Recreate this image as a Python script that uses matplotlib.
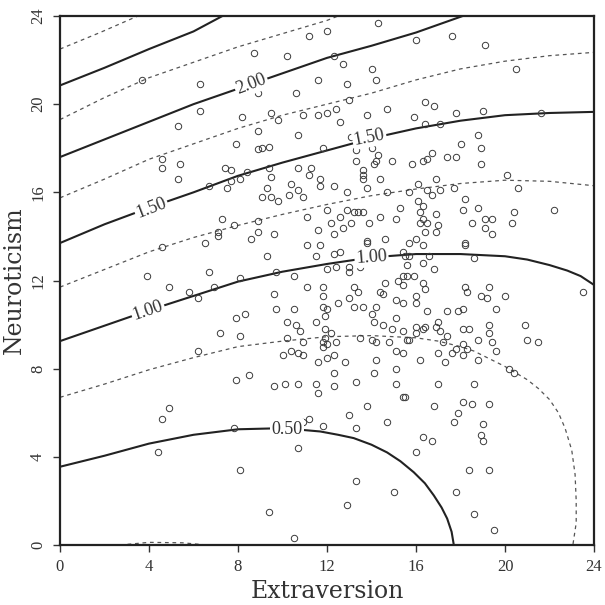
import matplotlib
matplotlib.use('Agg')
import matplotlib.pyplot as plt

# scatter: (extraversion, neuroticism)
extra = [
    3.7, 6.3, 6.3, 5.3, 8.7, 10.2, 11.2, 12.0, 11.6, 8.9, 10.6, 8.2, 8.9, 9.5, 9.8, 10.9, 11.6, 12.0, 10.7, 7.9, 9.1, 8.9, 11.8, 9.4,
    14.3, 16.0, 17.6, 19.1, 12.3, 12.7, 14.0, 14.2, 12.9, 13.0, 20.5, 12.4, 12.6, 13.8, 14.7, 15.9, 16.4, 16.8, 16.4, 17.1, 17.8, 19.0, 21.6, 18.8, 18.0, 18.9, 13.1, 14.0,
    4.6, 5.4, 4.6, 5.3, 7.4, 7.7, 7.5, 7.7, 8.1, 8.4, 6.7, 9.4, 9.5, 9.3, 9.1, 9.5, 9.8, 10.7, 11.3, 11.2, 10.4, 10.7, 10.3, 10.9, 11.7, 11.7, 12.0,
    7.3, 7.8, 8.9, 7.1, 7.1, 8.9, 9.6, 8.6, 6.5, 4.6, 9.3, 11.1, 11.6, 11.1, 11.7, 11.5, 6.7, 3.9, 8.1, 9.7, 10.5, 12.0,
    13.3, 14.3, 13.3, 14.1, 14.2, 14.9, 15.8, 16.3, 16.5, 16.7, 17.4, 17.8, 18.9, 13.6, 13.6, 13.6, 14.4, 12.3, 13.8, 12.9, 14.7, 15.7,
    16.1, 16.9, 16.5, 16.7, 17.1, 17.7, 20.1, 20.6, 18.2, 18.1, 18.8, 20.4, 22.2, 12.6, 13.2, 13.4, 13.6, 12.9, 12.2, 12.7, 13.1, 12.3,
    13.9, 14.4, 15.3, 15.1, 16.1, 16.3, 16.2, 16.9, 16.3, 16.2, 16.5, 17.0, 16.4, 16.9, 18.5, 19.1, 19.4, 19.1, 19.4, 20.3, 13.8, 13.8,
    14.6, 15.7, 16.0, 16.3, 18.2, 18.2, 12.3, 12.6, 14.5, 15.4, 15.5, 15.7, 16.6, 18.6, 12.4, 13.0, 13.0, 13.5, 15.6, 16.3, 16.8, 15.4, 15.6, 15.9,
    4.9, 5.8, 6.9, 6.2, 9.6, 11.1, 11.8, 11.8, 9.7, 10.5, 7.9, 8.3, 11.8, 11.9, 12.0, 10.2, 10.6, 10.8, 11.5, 11.9, 7.2, 8.1,
    10.2, 10.9, 11.9, 11.8, 11.8, 12.0, 6.2, 10.0, 10.4, 10.7, 10.9, 11.6, 12.0, 7.9, 8.5, 9.6, 10.1, 10.7, 11.5, 11.6, 4.9,
    14.6, 15.2, 15.4, 16.3, 16.4, 13.2, 13.4, 14.4, 14.5, 16.0, 16.0, 18.2, 18.3, 19.3, 18.9, 19.2, 20.0, 23.5, 12.5, 13.0, 13.2, 13.6,
    14.2, 14.0, 15.1, 15.4, 16.5, 17.4, 17.9, 18.1, 19.6, 15.1, 14.1, 14.5, 14.9, 15.4, 16.0, 16.4, 16.3, 16.0, 16.9, 17.0, 17.1, 17.4,
    18.1, 18.4, 19.3, 19.3, 20.9, 21.0, 21.5, 12.2, 12.4, 13.5, 14.0, 14.2, 14.8, 15.1, 15.4, 15.6, 15.7, 17.2, 17.0, 17.6, 17.8, 18.1,
    18.3, 18.1, 18.8, 19.4, 19.6, 18.8, 17.3, 16.2, 15.1, 14.2, 14.1, 12.3, 12.8, 12.3, 12.3, 13.3, 15.1, 17.0, 18.6, 20.2, 20.4,
    13.8, 15.4, 15.5, 16.8, 18.1, 18.5, 19.3,
    4.6, 4.4, 7.8, 8.1, 9.4, 10.5, 10.3, 10.9, 11.2, 10.7, 11.8,
    13.0, 13.3, 14.7, 16.3, 16.7, 16.0, 17.9, 17.7, 19.0, 18.9, 19.0, 18.4, 19.3, 13.3, 15.0, 17.8, 12.9, 18.6, 19.5,
]
neuro = [
    21.1, 20.9, 19.7, 19.0, 22.3, 22.2, 23.1, 23.3, 21.1, 20.5, 20.5, 19.4, 18.8, 19.6, 19.3, 19.5, 19.5, 19.6, 18.6, 18.2, 18.0, 17.95, 18.0, 18.05,
    23.7, 22.9, 23.1, 22.7, 22.2, 21.8, 21.6, 21.1, 20.9, 20.2, 21.6, 19.8, 19.2, 19.5, 19.8, 19.4, 20.1, 19.9, 19.1, 19.1, 19.6, 19.7, 19.6, 18.6, 18.2, 18.0, 18.5, 18.0,
    17.5, 17.3, 17.1, 16.6, 17.1, 17.0, 16.2, 16.5, 16.6, 16.9, 16.3, 17.1, 16.7, 16.2, 15.8, 15.8, 15.6, 17.1, 17.1, 16.8, 16.4, 16.1, 15.9, 15.8, 16.6, 16.3, 15.2,
    14.8, 14.5, 14.7, 14.2, 14.0, 14.2, 14.1, 13.9, 13.7, 13.5, 13.1, 14.9, 14.3, 13.6, 13.6, 13.1, 12.4, 12.2, 12.1, 12.4, 12.2, 12.5,
    17.9, 17.7, 17.4, 17.3, 17.4, 17.4, 17.3, 17.4, 17.5, 17.8, 17.6, 17.6, 17.3, 17.0, 16.8, 16.6, 16.6, 16.3, 16.2, 16.0, 16.0, 16.0,
    16.4, 16.6, 16.1, 15.9, 16.1, 16.2, 16.8, 16.2, 15.7, 15.2, 15.3, 15.1, 15.2, 14.9, 15.1, 15.1, 15.1, 15.2, 14.6, 14.4, 14.6, 14.1,
    14.6, 14.9, 15.3, 14.8, 15.6, 15.4, 15.1, 15.0, 14.8, 14.6, 14.6, 14.5, 14.2, 14.2, 14.6, 14.8, 14.8, 14.4, 14.1, 14.6, 13.8, 13.7,
    13.9, 13.7, 13.9, 13.6, 13.7, 13.6, 13.2, 13.3, 13.3, 13.3, 13.1, 13.1, 13.1, 13.0, 12.6, 12.4, 12.6, 12.6, 12.7, 12.8, 12.5, 12.2, 12.2, 12.2,
    11.7, 11.5, 11.7, 11.2, 11.4, 11.7, 11.7, 11.3, 10.7, 10.7, 10.3, 10.5, 10.8, 10.4, 10.7, 10.1, 10.0, 9.7, 10.1, 9.8, 9.6, 9.5,
    9.4, 9.2, 9.4, 9.2, 9.0, 9.1, 8.8, 8.6, 8.8, 8.7, 8.6, 8.3, 8.5, 7.5, 7.7, 7.2, 7.3, 7.3, 7.3, 6.9, 6.2,
    11.9, 12.0, 11.8, 11.9, 11.6, 11.7, 11.5, 11.5, 11.4, 11.3, 11.0, 11.7, 11.5, 11.7, 11.3, 11.2, 11.3, 11.5, 11.0, 11.2, 10.8, 10.8,
    10.8, 10.5, 11.1, 11.0, 10.6, 10.6, 10.6, 10.7, 10.7, 10.3, 10.1, 10.0, 9.8, 9.7, 9.9, 9.9, 9.8, 9.6, 9.9, 10.1, 9.7, 9.5,
    9.8, 9.8, 10.0, 9.6, 10.0, 9.3, 9.2, 9.6, 9.2, 9.4, 9.3, 9.2, 9.2, 8.8, 8.7, 9.3, 9.3, 9.2, 8.7, 8.7, 8.9, 9.1,
    8.9, 8.6, 9.3, 9.2, 8.8, 8.4, 8.3, 8.4, 8.0, 8.4, 7.8, 8.6, 8.3, 7.8, 7.2, 7.4, 7.3, 7.3, 7.3, 8.0, 7.8,
    6.3, 6.7, 6.7, 6.3, 6.5, 6.4, 6.4,
    5.7, 4.2, 5.3, 3.4, 1.5, 0.3, 5.4, 5.6, 5.7, 4.4, 5.4,
    5.9, 5.3, 5.6, 4.9, 4.7, 4.2, 6.0, 5.6, 5.5, 5.0, 4.7, 3.4, 3.4, 2.9, 2.4, 2.4, 1.8, 1.4, 0.7,
]

# contour lines (x = extraversion, y = neuroticism)
c250_x = [0, 2, 4, 6, 7.3]
c250_y = [20.85, 21.65, 22.5, 23.3, 24.0]
c275_x = [0, 1.8, 3.5]
c275_y = [22.5, 23.25, 24.0]
c225_x = [0, 2, 4, 6, 8, 10, 12, 12.5]
c225_y = [19.3, 20.3, 21.2, 21.9, 22.6, 23.2, 23.8, 24.0]
c200_x = [0, 2, 4, 6, 8, 10, 12, 14, 16, 18.1]
c200_y = [17.6, 18.4, 19.2, 20.0, 20.7, 21.4, 22.1, 22.65, 23.25, 24.0]
c175_x = [0, 2, 4, 6, 8, 10, 12, 14, 16, 18, 20, 22, 24]
c175_y = [15.75, 16.6, 17.5, 18.2, 18.9, 19.5, 20.0, 20.5, 21.1, 21.6, 21.95, 22.2, 22.35]
c150_x = [0, 2, 4, 6, 8, 10, 12, 14, 16, 18, 20, 22, 24]
c150_y = [13.7, 14.55, 15.3, 16.0, 16.75, 17.35, 17.9, 18.45, 18.9, 19.25, 19.5, 19.6, 19.65]
c125_x = [0, 2, 4, 6, 8, 10, 12, 14, 16, 18, 20, 22, 24]
c125_y = [11.7, 12.5, 13.3, 13.95, 14.5, 15.0, 15.45, 15.85, 16.15, 16.4, 16.55, 16.5, 16.3]
c100_x = [0, 2, 4, 6, 8, 10, 12, 14, 16, 18, 20, 21, 22, 22.8, 23.4, 24]
c100_y = [9.25, 9.95, 10.65, 11.3, 11.95, 12.4, 12.75, 13.05, 13.2, 13.2, 13.1, 12.95, 12.7, 12.45, 12.2, 11.8]
c075_x = [0, 2, 4, 6, 8, 10, 12, 14, 16, 17, 18, 18.6, 19, 19.5, 20, 20.5, 21, 21.5, 22, 22.4, 22.7, 23.0, 23.15, 23.2, 23.2, 23.05]
c075_y = [6.7, 7.3, 7.95, 8.5, 9.0, 9.25, 9.45, 9.5, 9.4, 9.25, 9.0, 8.8, 8.6, 8.35, 8.1, 7.8, 7.5, 7.1, 6.6, 6.0, 5.3, 4.3, 3.2, 2.0, 1.0, 0]
c050_x = [0, 2, 4, 6, 8, 10, 11.7, 12.5, 13.2, 14.0, 14.7, 15.3, 15.9, 16.4, 16.8, 17.15, 17.4, 17.6, 17.7]
c050_y = [3.55, 4.05, 4.6, 5.0, 5.25, 5.3, 5.15, 5.0, 4.85, 4.55, 4.2, 3.8, 3.3, 2.8, 2.25, 1.7, 1.2, 0.6, 0]
c025_x = [2.7, 4.0, 5.5, 6.6]
c025_y = [0.0, 0.12, 0.1, 0.0]

solid_lines = [(c250_x, c250_y), (c200_x, c200_y), (c150_x, c150_y), (c100_x, c100_y), (c050_x, c050_y)]
dashed_lines = [(c275_x, c275_y), (c225_x, c225_y), (c175_x, c175_y), (c125_x, c125_y), (c075_x, c075_y), (c025_x, c025_y)]

# contour label text, position and angle
clabels = ['2.00', '1.50', '1.50', '1.00', '1.00', '0.50']
clabel_x = [8.6, 4.1, 13.9, 3.95, 14.0, 10.2]
clabel_y = [20.9, 15.3, 18.5, 10.65, 13.05, 5.25]
clabel_rot = [21, 21, 11, 19, 4, 0]

ticks = [0, 4, 8, 12, 16, 20, 24]

fig = plt.figure(figsize=(6.05, 6.05), dpi=100)
ax = fig.add_axes([60 / 605, 60 / 605, 534 / 605, 529 / 605])

line_col = '#222222'
for xs, ys in solid_lines:
    ax.plot(xs, ys, color=line_col, lw=1.5, solid_capstyle='butt', solid_joinstyle='round', zorder=2)
for xs, ys in dashed_lines:
    ax.plot(xs, ys, color='#555555', lw=0.9, linestyle=(0, (3, 3)), zorder=2)

ax.plot(extra, neuro, linestyle='none', marker='o', markersize=4.6,
        mfc='none', mec='#3a3a3a', mew=0.7, zorder=3)

for txt, x, y, r in zip(clabels, clabel_x, clabel_y, clabel_rot):
    ax.text(x, y, txt, rotation=r, rotation_mode='anchor', ha='center', va='center',
            fontsize=13, family='Liberation Serif', color='#333333', zorder=4,
            bbox=dict(facecolor='white', edgecolor='none', pad=1.0))

ax.set_xlim(0, 24)
ax.set_ylim(0, 24)
ax.set_xticks(ticks)
ax.set_yticks(ticks)
ax.set_xticklabels([str(t) for t in ticks], family='Liberation Serif', fontsize=12, color='#333333')
ax.set_yticklabels([str(t) for t in ticks], family='Liberation Serif', fontsize=12, color='#333333',
                   rotation=90, va='center')
ax.tick_params(direction='out', length=5, width=1, pad=5, color='#333333')

for sp in ax.spines.values():
    sp.set_linewidth(1.6)
    sp.set_color('#222222')

ax.set_xlabel('Extraversion', family='DejaVu Serif', fontsize=17, color='#333333', labelpad=4)
ax.set_ylabel('Neuroticism', family='DejaVu Serif', fontsize=17, color='#333333', labelpad=3)

fig.savefig('out.png', dpi=100)
